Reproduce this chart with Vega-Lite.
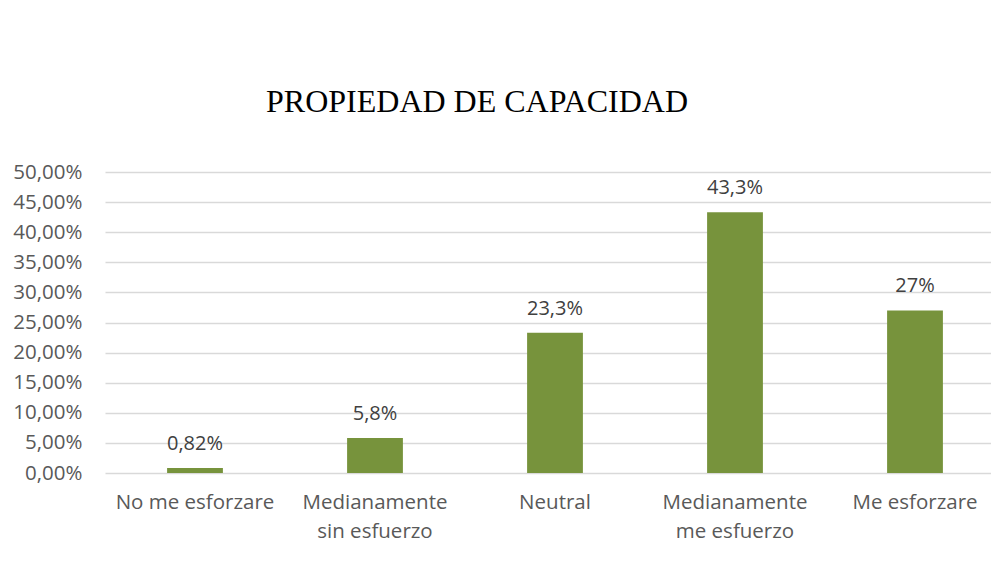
{
  "$schema": "https://vega.github.io/schema/vega-lite/v6.json",
  "autosize": {"type": "none"},
  "padding": {"left": 105, "top": 172, "right": 0, "bottom": 109},
  "width": 900,
  "height": 301,
  "background": "white",
  "title": {
    "text": "PROPIEDAD DE CAPACIDAD",
    "font": "Liberation Serif",
    "fontSize": 32,
    "fontWeight": "normal",
    "color": "#000000",
    "anchor": "middle",
    "dx": -78,
    "baseline": "alphabetic",
    "offset": 18
  },
  "data": {
    "values": [
      {"categoria": "No me esforzare", "valor": 0.82, "etiqueta": "0,82%"},
      {"categoria": "Medianamente sin esfuerzo", "valor": 5.8, "etiqueta": "5,8%"},
      {"categoria": "Neutral", "valor": 23.3, "etiqueta": "23,3%"},
      {"categoria": "Medianamente me esfuerzo", "valor": 43.3, "etiqueta": "43,3%"},
      {"categoria": "Me esforzare", "valor": 27, "etiqueta": "27%"}
    ]
  },
  "encoding": {
    "x": {
      "field": "categoria",
      "type": "nominal",
      "sort": null,
      "scale": {"paddingInner": 0.69, "paddingOuter": 0.345},
      "axis": {
        "title": null,
        "labelAngle": 0,
        "ticks": false,
        "domain": false,
        "labelPadding": 19,
        "labelFont": "Open Sans",
        "labelFontSize": 20.5,
        "labelColor": "#595959",
        "labelLineHeight": 29,
        "labelExpr": "datum.value == 'Medianamente sin esfuerzo' ? ['Medianamente', 'sin esfuerzo'] : datum.value == 'Medianamente me esfuerzo' ? ['Medianamente', 'me esfuerzo'] : datum.value"
      }
    },
    "y": {
      "field": "valor",
      "type": "quantitative",
      "scale": {"domain": [0, 50], "nice": false},
      "axis": {
        "title": null,
        "values": [0, 5, 10, 15, 20, 25, 30, 35, 40, 45, 50],
        "ticks": false,
        "domain": false,
        "labelPadding": 23,
        "labelFont": "Open Sans",
        "labelFontSize": 20.5,
        "labelColor": "#595959",
        "gridColor": "#d9d9d9",
        "gridWidth": 1.3,
        "labelExpr": "replace(format(datum.value, '.2f'), '.', ',') + '%'"
      }
    }
  },
  "layer": [
    {"mark": {"type": "bar", "color": "#77933C"}},
    {
      "mark": {
        "type": "text",
        "baseline": "alphabetic",
        "dy": -18,
        "font": "Open Sans",
        "fontSize": 20,
        "color": "#404040"
      },
      "encoding": {"text": {"field": "etiqueta"}}
    }
  ],
  "config": {"view": {"stroke": null}}
}
